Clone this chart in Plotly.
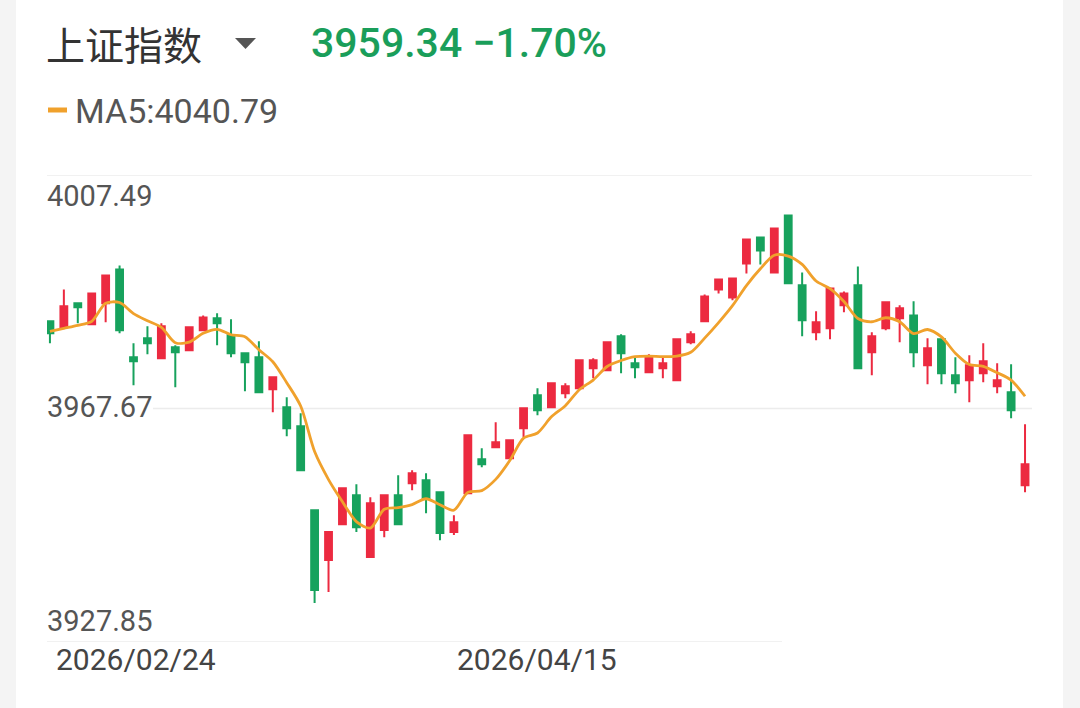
import plotly.graph_objects as go

# ---- data ----
day_index = list(range(71))
tick_labels = ["2026/02/24", "2026/04/15"]
tick_days = [0, 35]

open_ = [3982.53, 3981.51, 3985.60, 3982.02, 3985.60, 3991.39, 3976.40, 3979.64, 3976.23, 3978.10,
         3977.59, 3981.00, 3983.04, 3980.15, 3977.08, 3976.40, 3970.95, 3967.88, 3964.64, 3950.33,
         3941.82, 3947.95, 3952.89, 3942.33, 3946.93, 3952.89, 3954.93, 3955.45, 3953.40, 3946.59,
         3953.23, 3959.02, 3961.07, 3959.19, 3964.30, 3969.93, 3967.88, 3970.27, 3971.12, 3974.52,
         3974.18, 3979.98, 3975.38, 3973.84, 3974.52, 3972.48, 3978.96, 3982.53, 3987.98, 3986.62,
         3992.41, 3996.84, 3990.88, 4000.59, 3988.67, 3980.66, 3981.34, 3985.26, 3988.67, 3977.25,
         3981.34, 3983.04, 3983.55, 3975.04, 3979.47, 3973.33, 3972.48, 3973.67, 3971.46, 3970.44,
         3954.59]
high = [3982.53, 3987.98, 3985.60, 3987.47, 3990.54, 3992.07, 3978.78, 3981.68, 3982.19, 3978.44,
        3981.51, 3983.55, 3983.90, 3982.87, 3977.08, 3979.13, 3972.99, 3969.58, 3966.86, 3950.33,
        3946.59, 3954.08, 3954.76, 3952.55, 3952.89, 3956.30, 3957.15, 3956.64, 3953.57, 3949.48,
        3963.11, 3960.90, 3965.33, 3962.43, 3967.71, 3971.12, 3971.97, 3971.97, 3975.89, 3976.23,
        3978.96, 3980.32, 3976.40, 3976.91, 3976.40, 3979.64, 3980.83, 3987.13, 3989.86, 3990.03,
        3996.67, 3996.84, 3998.55, 4000.76, 3990.88, 3984.24, 3988.15, 3987.64, 3991.90, 3980.66,
        3985.77, 3985.26, 3985.94, 3979.64, 3979.47, 3976.40, 3976.74, 3978.78, 3975.38, 3975.21,
        3964.99]
low = [3978.78, 3981.51, 3982.19, 3982.02, 3982.36, 3980.49, 3971.63, 3976.91, 3976.23, 3971.29,
       3977.59, 3981.00, 3978.44, 3976.40, 3970.61, 3970.44, 3967.03, 3962.94, 3957.15, 3934.49,
       3936.36, 3947.95, 3946.59, 3942.33, 3945.73, 3947.95, 3953.74, 3949.82, 3945.22, 3946.08,
       3953.23, 3957.66, 3961.07, 3959.02, 3962.77, 3966.52, 3967.88, 3969.41, 3971.12, 3972.82,
       3974.18, 3973.67, 3972.82, 3973.84, 3972.82, 3972.48, 3978.61, 3982.53, 3987.30, 3986.11,
       3990.71, 3992.24, 3990.88, 3989.01, 3979.98, 3979.30, 3979.47, 3984.07, 3974.52, 3973.33,
       3981.00, 3978.96, 3974.70, 3971.80, 3971.80, 3970.27, 3968.73, 3972.14, 3970.27, 3966.01,
       3953.40]
close = [3980.49, 3985.09, 3984.92, 3987.30, 3990.37, 3981.00, 3975.72, 3978.78, 3981.68, 3977.25,
         3981.51, 3983.21, 3982.19, 3977.08, 3975.55, 3970.44, 3972.99, 3964.30, 3957.15, 3936.71,
         3946.59, 3954.08, 3947.44, 3951.53, 3952.89, 3947.95, 3956.64, 3952.38, 3946.42, 3948.29,
         3963.11, 3958.17, 3961.92, 3962.26, 3967.71, 3967.37, 3971.97, 3971.46, 3975.89, 3975.89,
         3978.96, 3977.08, 3974.70, 3976.40, 3975.38, 3979.47, 3980.32, 3986.79, 3989.69, 3989.86,
         3996.50, 3994.63, 3998.38, 3989.01, 3982.70, 3982.36, 3988.15, 3987.30, 3974.52, 3979.98,
         3985.77, 3984.75, 3977.25, 3977.93, 3973.67, 3971.97, 3975.04, 3975.72, 3972.48, 3967.37,
         3958.17]
ma5 = [3980.83, 3981.34, 3981.85, 3982.53, 3985.63, 3985.74, 3983.86, 3982.63, 3981.51, 3978.89,
       3978.99, 3980.49, 3981.17, 3980.25, 3979.91, 3977.69, 3975.65, 3972.07, 3968.09, 3960.32,
       3955.55, 3951.77, 3948.39, 3947.27, 3950.50, 3950.78, 3951.29, 3952.28, 3951.25, 3950.33,
       3953.37, 3953.67, 3955.58, 3958.75, 3962.63, 3963.49, 3966.25, 3968.15, 3970.88, 3972.52,
       3974.83, 3975.85, 3976.50, 3976.60, 3976.50, 3976.60, 3977.25, 3979.67, 3982.33, 3985.22,
       3988.63, 3991.49, 3993.81, 3993.67, 3992.24, 3989.41, 3988.12, 3985.91, 3983.01, 3982.46,
       3983.15, 3982.46, 3980.45, 3981.14, 3979.87, 3977.11, 3975.17, 3974.87, 3973.78, 3972.52,
       3969.76]
y_ticks = [4007.49, 3967.67, 3927.85]
title_text = "上证指数"
quote_text = "3959.34 \u22121.70%"
ma_text = "MA5:4040.79"

RED = "#EC2A40"
GREEN = "#17A25D"
ORANGE = "#F0A12C"
GRID = "#ECECEC"

fig = go.Figure()
fig.add_trace(go.Candlestick(
    x=day_index, open=open_, high=high, low=low, close=close,
    increasing=dict(line=dict(color=RED, width=2), fillcolor=RED),
    decreasing=dict(line=dict(color=GREEN, width=2), fillcolor=GREEN),
    whiskerwidth=0, showlegend=False, hoverinfo="skip",
))
fig.add_trace(go.Scatter(
    x=day_index, y=ma5, mode="lines",
    line=dict(color=ORANGE, width=2.8, shape="spline", smoothing=0.8),
    showlegend=False, hoverinfo="skip",
))

L, R, T, B = 47, 48, 175, 66
W, H = 1080, 708
PW, PH = W - L - R, H - T - B

def px(xp):
    return (xp - L) / PW

def py(yp):
    return (H - B - yp) / PH

shapes = [
    # side strips
    dict(type="rect", xref="paper", yref="paper", x0=px(0), x1=px(16), y0=py(H), y1=py(0),
         fillcolor="#F4F4F4", line=dict(width=0), layer="below"),
    dict(type="rect", xref="paper", yref="paper", x0=px(1063), x1=px(W), y0=py(H), y1=py(0),
         fillcolor="#F4F4F4", line=dict(width=0), layer="below"),
    # grid lines
    dict(type="line", xref="paper", yref="y", x0=0, x1=1, y0=y_ticks[0], y1=y_ticks[0],
         line=dict(color=GRID, width=1.5), layer="below"),
    dict(type="line", xref="paper", yref="y", x0=px(153), x1=1, y0=y_ticks[1], y1=y_ticks[1],
         line=dict(color=GRID, width=1.5), layer="below"),
    dict(type="line", xref="paper", yref="y", x0=0, x1=px(782), y0=y_ticks[2], y1=y_ticks[2],
         line=dict(color=GRID, width=1.5), layer="below"),
    # MA legend dash
    dict(type="line", xref="paper", yref="paper", x0=px(48), x1=px(67), y0=py(110), y1=py(110),
         line=dict(color=ORANGE, width=5)),
    # dropdown triangle
    dict(type="path", xref="paper", yref="paper",
         path=f"M {px(235)},{py(38)} L {px(256)},{py(38)} L {px(245.5)},{py(49)} Z",
         fillcolor="#555555", line=dict(width=0)),
]

annotations = [
    dict(text=title_text, xref="paper", yref="paper", x=px(44), y=py(43), xanchor="left",
         yanchor="middle", showarrow=False,
         font=dict(family="Noto Sans CJK SC", size=39, color="#333333")),
    dict(text=quote_text, xref="paper", yref="paper", x=px(309), y=py(43), xanchor="left",
         yanchor="middle", showarrow=False,
         font=dict(family="Roboto", size=41, color="#1A9E5A", weight=500)),
    dict(text=ma_text, xref="paper", yref="paper", x=px(73), y=py(111), xanchor="left",
         yanchor="middle", showarrow=False,
         font=dict(family="Roboto", size=34, color="#555555")),
]
label_y = [py(196), py(407), py(621)]
for val, yy in zip(y_ticks, label_y):
    annotations.append(dict(text=f"{val:.2f}", xref="paper", yref="paper", x=px(45), y=yy,
                            xanchor="left", yanchor="middle", showarrow=False,
                            font=dict(family="Roboto", size=29, color="#555555")))
annotations.append(dict(text=tick_labels[0], xref="x", yref="paper", x=tick_days[0], y=py(659),
                        xanchor="left", yanchor="middle", xshift=4, showarrow=False,
                        font=dict(family="Roboto", size=30, color="#444444")))
annotations.append(dict(text=tick_labels[1], xref="x", yref="paper", x=tick_days[1], y=py(659),
                        xanchor="center", yanchor="middle", showarrow=False,
                        font=dict(family="Roboto", size=30, color="#444444")))

fig.update_layout(
    width=W, height=H,
    margin=dict(l=L, r=R, t=T, b=B),
    paper_bgcolor="white", plot_bgcolor="white",
    xaxis=dict(range=[-0.21, 70.5], visible=False, rangeslider=dict(visible=False),
               fixedrange=True),
    yaxis=dict(range=[y_ticks[2], y_ticks[0]], visible=False, fixedrange=True),
    shapes=shapes, annotations=annotations,
    showlegend=False,
)

fig.write_html("out.html", config={"displayModeBar": False},
               post_script="document.body.style.margin='0px';")
